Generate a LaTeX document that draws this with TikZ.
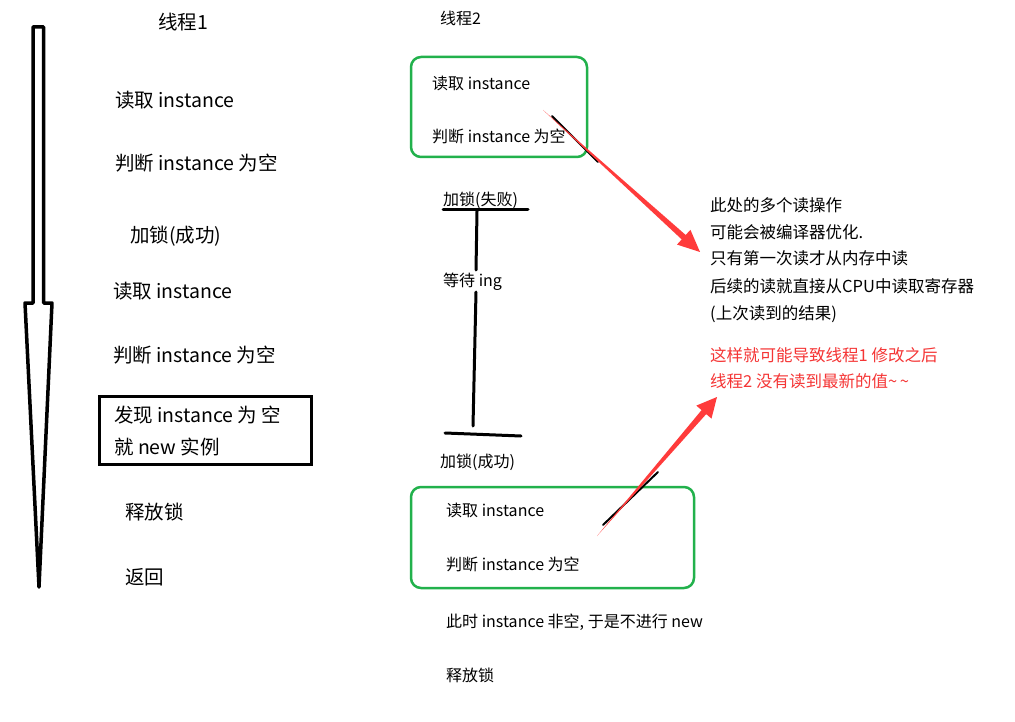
\documentclass[tikz,border=0pt]{standalone}
\usepackage{fontspec}
\setmainfont{Noto Sans CJK SC}
\definecolor{boxgreen}{HTML}{22B14C}
\definecolor{arrowred}{HTML}{FF3B3B}
\definecolor{notered}{HTML}{F53535}
\begin{document}
\begin{tikzpicture}[x=1pt,y=-1pt,
  lbl/.style={anchor=west,inner sep=0pt,text height=0.88em,text depth=0.12em,yshift=-3.5pt,font=\fontsize{19.5}{23}\selectfont},
  rlbl/.style={anchor=west,inner sep=0pt,text height=0.88em,text depth=0.12em,yshift=-3pt,font=\fontsize{16}{19}\selectfont},
  note/.style={anchor=west,inner sep=0pt,text height=0.88em,text depth=0.12em,yshift=-3pt,font=\fontsize{16.5}{19}\selectfont},
  gbox/.style={draw=boxgreen,line width=2.5pt,rounded corners=10pt},
  redarrow/.style={fill=arrowred,draw=none},
  pen/.style={line width=3pt,line cap=round},
  stray/.style={line width=2pt,line cap=round}]
\useasboundingbox[fill=white] (0,0) rectangle (1015,722);

% thread 1 time arrow
\draw[line width=3.5pt,line join=round,fill=white]
  (33,27) -- (43.5,27) -- (43.5,303) -- (52,303) -- (39,587) -- (25,303) -- (33,303) -- cycle;

% thread 1 column
\node[lbl] (t1) at (158,22) {线程1};
\node[lbl] (l1) at (115,100) {读取 instance};
\node[lbl] (l2) at (115,163) {判断 instance 为空};
\node[lbl] (l3) at (130,235) {加锁(成功)};
\node[lbl] (l4) at (113,291) {读取 instance};
\node[lbl] (l5) at (113,355) {判断 instance 为空};
\draw[line width=3pt] (99,396) rectangle (311,464);
\node[lbl] (l6) at (114,415) {发现 instance 为 空};
\node[lbl] (l7) at (114,447) {就 new 实例};
\node[lbl] (l8) at (125,512) {释放锁};
\node[lbl] (l9) at (125,577) {返回};

% thread 2 column
\node[rlbl] (t2) at (440,18) {线程2};
\draw[gbox] (411,57) rectangle (587,157);
\node[rlbl] (r1) at (432,83) {读取 instance};
\node[rlbl] (r2) at (432,136) {判断 instance 为空};
\node[rlbl] (r3) at (443,199) {加锁(失败)};
\coordinate (barTL) at (443,210);
\coordinate (barTR) at (528,210);
\coordinate (vTop) at (477,211);
\coordinate (vGapA) at (476,270);
\coordinate (vGapB) at (476,292);
\coordinate (vBot) at (473,426);
\coordinate (barBL) at (445,433);
\coordinate (barBR) at (521,436);
\draw[pen] (barTL) -- (barTR);
\draw[pen] (vTop) -- (vGapA);
\draw[pen] (vGapB) -- (vBot);
\draw[pen] (barBL) -- (barBR);
\node[rlbl] (r4) at (443,280) {等待 ing};
\node[rlbl] (r5) at (440,461) {加锁(成功)};
\draw[gbox] (411,487) rectangle (694,588);
\node[rlbl] (r6) at (446,510) {读取 instance};
\node[rlbl] (r7) at (446,564) {判断 instance 为空};
\node[rlbl] (r8) at (446,621) {此时 instance 非空, 于是不进行 new};
\node[rlbl] (r9) at (446,675) {释放锁};

% notes
\node[note] (n1) at (710,205) {此处的多个读操作};
\node[note] (n2) at (710,232) {可能会被编译器优化.};
\node[note] (n3) at (710,258) {只有第一次读才从内存中读};
\node[note] (n4) at (710,286) {后续的读就直接从CPU中读取寄存器};
\node[note] (n5) at (710,313) {(上次读到的结果)};
\node[note,text=notered] (n6) at (710,355) {这样就可能导致线程1 修改之后};
\node[note,text=notered] (n7) at (710,381) {线程2 没有读到最新的值\textasciitilde\,\textasciitilde};

% stray pen marks
\draw[stray] (552,116) -- (598,162);
\draw[stray] (603,525) -- (658,472);

% red arrows
\coordinate (a1tail) at (543,110);
\coordinate (a1tip) at (700,252);
\fill[redarrow] (a1tail) -- (681.7,239.4) -- (677.0,244.6) -- (a1tip) -- (690.4,229.8) -- (685.7,235.0) -- cycle;
\coordinate (a2tail) at (597,536);
\coordinate (a2tip) at (717,397);
\fill[redarrow] (a2tail) -- (706.2,414.1) -- (711.5,418.6) -- (a2tip) -- (696.3,405.6) -- (701.6,410.1) -- cycle;
\end{tikzpicture}
\end{document}
